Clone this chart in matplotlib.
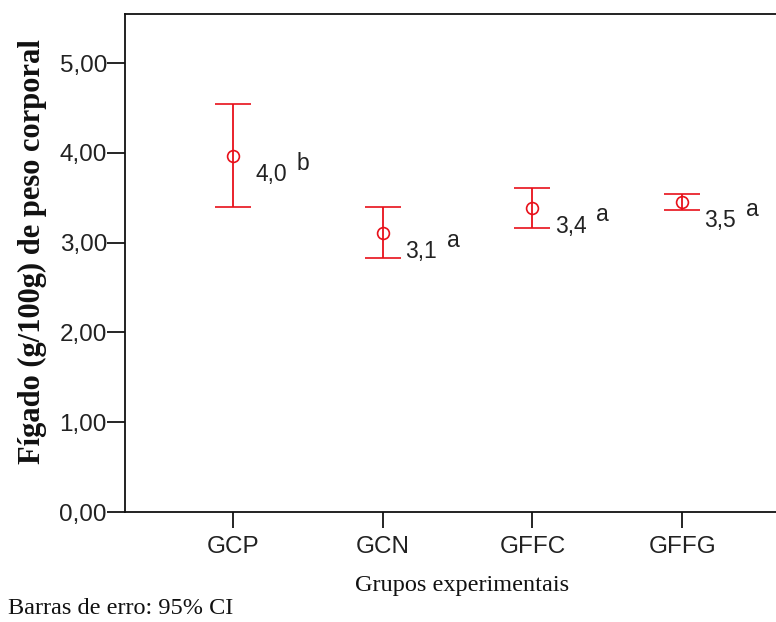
import numpy as np
import matplotlib
matplotlib.use("Agg")
import matplotlib.pyplot as plt

# group means and 95% CI limits
groups = ["GCP", "GCN", "GFFC", "GFFG"]
means = [3.96, 3.11, 3.39, 3.45]
ci_low = [3.40, 2.83, 3.16, 3.36]
ci_high = [4.54, 3.40, 3.61, 3.54]
letters = ["b", "a", "a", "a"]
yticks = [0, 1, 2, 3, 4, 5]

W, H = 776, 622
fig = plt.figure(figsize=(W / 100, H / 100), dpi=100)
# axes: left spine at x=125px, top at y=14px, bottom at y=512px; runs off the right edge
ax = fig.add_axes([125 / W, 1 - 512 / H, 665 / W, 498 / H])

x = np.arange(len(groups))
m = np.array(means)
err = np.vstack([m - np.array(ci_low), np.array(ci_high) - m])
red = "#e8101a"
ax.errorbar(x, m, yerr=err, fmt="o", mfc="none", mec=red, ms=8.5, mew=1.2,
            ecolor=red, elinewidth=1.3, capsize=13, capthick=1.3, color=red)

for xi, mi, lab in zip(x, m, letters):
    ax.annotate(f"{mi:.1f}".replace(".", ","), (xi, mi), xytext=(16, -18),
                textcoords="offset points", ha="left", va="baseline",
                fontsize=16.5, family="Liberation Sans", color="#222222")
    ax.annotate(lab, (xi, mi), xytext=(46, -10), textcoords="offset points",
                ha="left", va="baseline", fontsize=16.5,
                family="Liberation Sans", color="#222222")

ax.set_xlim(-0.72, 3.72)
ax.set_ylim(0, 5.546)
ax.set_xticks(x)
ax.set_xticklabels(groups)
ax.set_yticks(yticks)
ax.set_yticklabels([f"{v:.2f}".replace(".", ",") for v in yticks])
for lab in ax.get_xticklabels() + ax.get_yticklabels():
    lab.set_family("Liberation Sans")
    lab.set_fontsize(17.5)
    lab.set_color("#222222")
ax.tick_params(axis="y", length=13, width=1.2, pad=0, direction="out")
ax.tick_params(axis="x", length=11.5, width=1.2, pad=5.5, direction="out")
ax.spines["right"].set_visible(False)
for s in ["left", "bottom", "top"]:
    ax.spines[s].set_linewidth(1.3)
    ax.spines[s].set_color("#111111")

fig.text(32 / W, 1 - 252 / H, "Fígado (g/100g) de peso corporal", rotation=90,
         ha="center", va="center", family="Liberation Serif", weight="bold",
         fontsize=22, color="#111111")
fig.text(462 / W, 1 - 585 / H, "Grupos experimentais", ha="center", va="center",
         family="Liberation Serif", fontsize=17.5, color="#111111")
fig.text(8 / W, 1 - 608 / H, "Barras de erro: 95% CI", ha="left", va="center",
         family="Liberation Serif", fontsize=17.5, color="#111111")

fig.savefig("out.png", dpi=100)
